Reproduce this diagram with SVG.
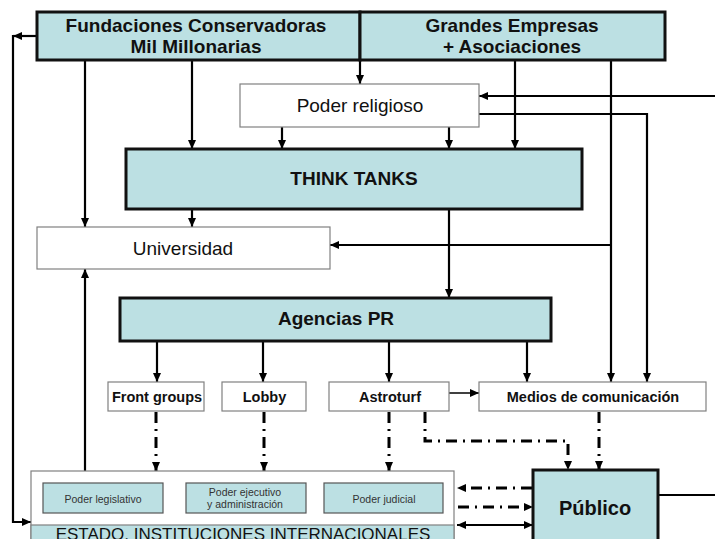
<svg xmlns="http://www.w3.org/2000/svg" width="715" height="539" viewBox="0 0 715 539">
<style>
text{font-family:"Liberation Sans",Arial,sans-serif;fill:#111;text-anchor:middle}
.b{font-weight:bold}
.thick{fill:#bce0e3;stroke:#111;stroke-width:3}
.white{fill:#fff;stroke:#808080;stroke-width:1.2}
.inner{fill:#bce0e3;stroke:#555;stroke-width:1.2}
.sm{font-size:10.5px;fill:#333}
.c{fill:none;stroke:#000;stroke-width:2.2}
.d{fill:none;stroke:#000;stroke-width:3;stroke-dasharray:11 6 2 6}
</style>
<defs>
<marker id="a" markerUnits="userSpaceOnUse" markerWidth="9" markerHeight="9" refX="9" refY="4.5" orient="auto-start-reverse" viewBox="0 0 9 9">
<path d="M0,0.5 L9,4.5 L0,8.5 z" fill="#000"/>
</marker>
</defs>
<rect width="715" height="539" fill="#fff"/>
<g id="connectors">
<path class="c" d="M37,36 H13" marker-end="url(#a)"/>
<path class="c" d="M13,35 V522 H31" marker-end="url(#a)"/>
<path class="c" d="M360,60 V84" marker-end="url(#a)"/>
<path class="c" d="M85,60 V227" marker-end="url(#a)"/>
<path class="c" d="M192,60 V149" marker-end="url(#a)"/>
<path class="c" d="M515,60 V149" marker-end="url(#a)"/>
<path class="c" d="M611,60 V382" marker-end="url(#a)"/>
<path class="c" d="M611,245 H330" marker-end="url(#a)"/>
<path class="c" d="M715,96 H479" marker-end="url(#a)"/>
<path class="c" d="M479,114 H647 V382" marker-end="url(#a)"/>
<path class="c" d="M282,127 V149" marker-end="url(#a)"/>
<path class="c" d="M449,127 V149" marker-end="url(#a)"/>
<path class="c" d="M192,209 V227" marker-end="url(#a)"/>
<path class="c" d="M449,209 V298" marker-end="url(#a)"/>
<path class="c" d="M157,341 V382" marker-end="url(#a)"/>
<path class="c" d="M263,341 V382" marker-end="url(#a)"/>
<path class="c" d="M389,341 V382" marker-end="url(#a)"/>
<path class="c" d="M527,341 V382" marker-end="url(#a)"/>
<path class="c" style="stroke-width:1.5" d="M449,393 H479" marker-end="url(#a)"/>
<path class="c" d="M85,471 V269" marker-end="url(#a)"/>
<path class="c" d="M658,495 H715"/>
<path class="c" d="M457,525 H533" marker-start="url(#a)" marker-end="url(#a)"/>
<path class="d" d="M156,412 V471" marker-end="url(#a)"/>
<path class="d" d="M264,412 V471" marker-end="url(#a)"/>
<path class="d" d="M389,412 V471" marker-end="url(#a)"/>
<path class="d" d="M425,412 V441 H568 V470" marker-end="url(#a)"/>
<path class="d" d="M599,412 V470" marker-end="url(#a)"/>
<path class="d" d="M532,488 H457" marker-end="url(#a)"/>
<path class="d" d="M458,507 H533" marker-end="url(#a)"/>
</g>
<g id="fundaciones">
<rect class="thick" x="37" y="12" width="323" height="48"/>
<text class="b" x="196" y="32" font-size="19">Fundaciones Conservadoras</text>
<text class="b" x="196" y="53" font-size="19">Mil Millonarias</text>
</g>
<g id="grandes">
<rect class="thick" x="360" y="12" width="305" height="48"/>
<text class="b" x="512" y="32" font-size="19">Grandes Empresas</text>
<text class="b" x="512" y="53" font-size="19">+ Asociaciones</text>
</g>
<g id="poder-religioso">
<rect class="white" x="240" y="84" width="239" height="43"/>
<text x="360" y="112" font-size="19">Poder religioso</text>
</g>
<g id="think-tanks">
<rect class="thick" x="126" y="149" width="456" height="60"/>
<text class="b" x="354" y="185" font-size="19">THINK TANKS</text>
</g>
<g id="universidad">
<rect class="white" x="37" y="227" width="293" height="42"/>
<text x="183" y="255" font-size="19">Universidad</text>
</g>
<g id="agencias">
<rect class="thick" x="120" y="298" width="431" height="43"/>
<text class="b" x="336" y="325" font-size="19">Agencias PR</text>
</g>
<g id="front-groups">
<rect class="white" x="108" y="382" width="96" height="29"/>
<text class="b" x="157" y="402" font-size="14.5">Front groups</text>
</g>
<g id="lobby">
<rect class="white" x="222" y="382" width="84" height="29"/>
<text class="b" x="264.5" y="402" font-size="14.5">Lobby</text>
</g>
<g id="astroturf">
<rect class="white" x="329" y="382" width="120" height="29"/>
<text class="b" x="390" y="402" font-size="14.5">Astroturf</text>
</g>
<g id="medios">
<rect class="white" x="479" y="382" width="227" height="29"/>
<text class="b" x="593" y="402" font-size="14.5">Medios de comunicación</text>
</g>
<g id="estado">
<rect class="white" x="31" y="471" width="423" height="80"/>
<rect x="31" y="525" width="423" height="26" fill="#bce0e3" stroke="#808080" stroke-width="1.2"/>
<text x="243" y="540" font-size="17" fill="#222">ESTADO, INSTITUCIONES INTERNACIONALES</text>
</g>
<g id="poder-legislativo">
<rect class="inner" x="43" y="483" width="120" height="30"/>
<text class="sm" x="103" y="503">Poder legislativo</text>
</g>
<g id="poder-ejecutivo">
<rect class="inner" x="186" y="483" width="120" height="30"/>
<text class="sm" x="245" y="496">Poder ejecutivo</text>
<text class="sm" x="245" y="508">y administración</text>
</g>
<g id="poder-judicial">
<rect class="inner" x="324" y="483" width="119" height="30"/>
<text class="sm" x="384" y="503">Poder judicial</text>
</g>
<g id="publico">
<rect class="thick" x="533" y="470" width="125" height="80"/>
<text class="b" x="595" y="515" font-size="20">Público</text>
</g>
</svg>
